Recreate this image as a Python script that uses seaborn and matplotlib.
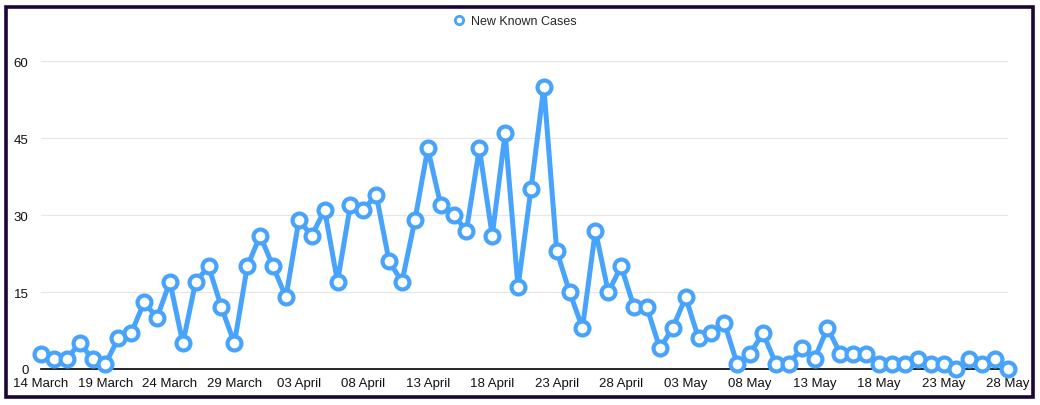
import numpy as np
import pandas as pd
import matplotlib
matplotlib.use("Agg")
import matplotlib.pyplot as plt
import matplotlib.dates as mdates
from matplotlib.lines import Line2D
from matplotlib.patches import Rectangle
import seaborn as sns

# daily new known cases, 14 March .. 28 May
start_date = "2020-03-14"
march_cases = [3, 2, 2, 5, 2, 1, 6, 7, 13, 10, 17, 5, 17, 20, 12, 5, 20, 26]
april_cases = [20, 14, 29, 26, 31, 17, 32, 31, 34, 21, 17, 29, 43, 32, 30,
               27, 43, 26, 46, 16, 35, 55, 23, 15, 8, 27, 15, 20, 12, 12]
may_cases = [4, 8, 14, 6, 7, 9, 1, 3, 7, 1, 1, 4, 2, 8, 3, 3, 3, 1, 1, 1,
             2, 1, 1, 0, 2, 1, 2, 0]
y_ticks = [0, 15, 30, 45, 60]
series_name = "New Known Cases"

cases = march_cases + april_cases + may_cases
dates = pd.date_range(start_date, periods=len(cases), freq="D")
df = pd.DataFrame({"date": dates, "cases": cases})

BLUE = "#47a3fb"

sns.set_theme(style="white")
plt.rcParams["font.family"] = ["Liberation Sans", "DejaVu Sans"]

fig = plt.figure(figsize=(10.4, 4.06), dpi=100)
ax = fig.add_axes([0.0394, 0.0887, 0.9298, 0.758])

sns.lineplot(data=df, x="date", y="cases", ax=ax, color=BLUE, linewidth=3.6,
             marker="o", markersize=10, markerfacecolor="white",
             markeredgecolor=BLUE, markeredgewidth=3.0, clip_on=False,
             zorder=3)

ax.set_xlim(dates[0], dates[-1])
ax.set_ylim(0, 60)
ax.set_yticks(y_ticks)
ax.set_xticks(dates[::5])
ax.xaxis.set_major_formatter(mdates.DateFormatter("%d %B"))
ax.set_xlabel("")
ax.set_ylabel("")

ax.grid(axis="y", color="#e6e6e6", linewidth=0.8)
ax.grid(axis="x", visible=False)
for s in ["left", "right", "top"]:
    ax.spines[s].set_visible(False)
ax.spines["bottom"].set_color("black")
ax.spines["bottom"].set_linewidth(1.2)
ax.spines["bottom"].set_zorder(2)
ax.tick_params(axis="both", length=0, labelsize=9.5, colors="#111111")
ax.tick_params(axis="y", pad=9)
ax.tick_params(axis="x", pad=6)

handle = Line2D([], [], linestyle="none", marker="o", markersize=6,
                markerfacecolor="white", markeredgecolor=BLUE,
                markeredgewidth=2)
fig.legend(handles=[handle], labels=[series_name], loc="center",
           bbox_to_anchor=(0.495, 0.946), frameon=False, fontsize=9,
           handletextpad=0.4, handlelength=1.0)

fig.patches.append(Rectangle((0.0062, 0.0185), 0.987, 0.961,
                             transform=fig.transFigure, fill=False,
                             edgecolor="#1a0538", linewidth=2.6))

fig.savefig("out.png", dpi=100)
